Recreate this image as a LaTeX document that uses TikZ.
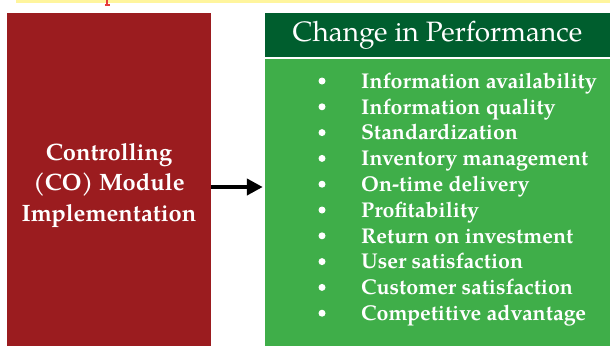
\documentclass[tikz,border=0pt]{standalone}
\usepackage{fontspec}
\setmainfont{TeX Gyre Pagella}
\usepackage{xcolor}
\usetikzlibrary{arrows.meta}
\definecolor{boxred}{RGB}{155,28,31}
\definecolor{headgreen}{RGB}{0,94,46}
\definecolor{bodygreen}{RGB}{63,174,73}
\definecolor{stripyellow}{RGB}{255,245,157}
\definecolor{stripred}{RGB}{230,60,60}

\begin{document}
\begin{tikzpicture}[x=1pt,y=-1pt,
    box/.style={draw=none,inner sep=0pt,text=white,align=center},
    item/.style={anchor=base west,text=white,inner sep=0pt,font=\fontsize{21.4}{25.8}\selectfont\bfseries},
    dot/.style={circle,fill=white,inner sep=0pt,minimum size=7pt}]
                \useasboundingbox (0,0) rectangle (610,346);
                % strip at the top
                \fill[stripyellow] (16,0) rectangle (610,3);
                \draw[stripred, line width=1.5pt] (107,0) -- (107,5) (104.5,5) -- (109.5,5);

                % left box
                \node[box,fill=boxred,minimum width=204pt,minimum height=333pt] (impl) at (109,179.5) {};
                \node[box,font=\fontsize{23.7}{30.5}\selectfont\bfseries] (impltext) at (109,185.5) {Controlling\\(CO) Module\\Implementation};

                % right boxes
                \node[box,fill=headgreen,minimum width=345pt,minimum height=44pt,font=\fontsize{28}{32}\selectfont] (head) at (437.5,35) {Change in Performance};
                \node[box,fill=bodygreen,minimum width=345pt,minimum height=287pt] (body) at (437.5,202.5) {};

                % arrow
                \draw[line width=4pt, shorten >=2pt, -{Triangle[length=16pt,width=16pt]}] ([yshift=-7.5pt]impl.east) -- ([yshift=-7.5pt]impl.east -| body.west);

                % list of measures
                \foreach \txt [count=\i from 0] in {Information availability, Information quality, Standardization, Inventory management, On-time delivery, Profitability, Return on investment, User satisfaction, Customer satisfaction, Competitive advantage} {
                    \node[dot] (bul\i) at (322,{81+25.8*\i}) {};
                    \node[item] (item\i) at (361,{88.3+25.8*\i}) {\txt};
                }
\end{tikzpicture}
\end{document}
